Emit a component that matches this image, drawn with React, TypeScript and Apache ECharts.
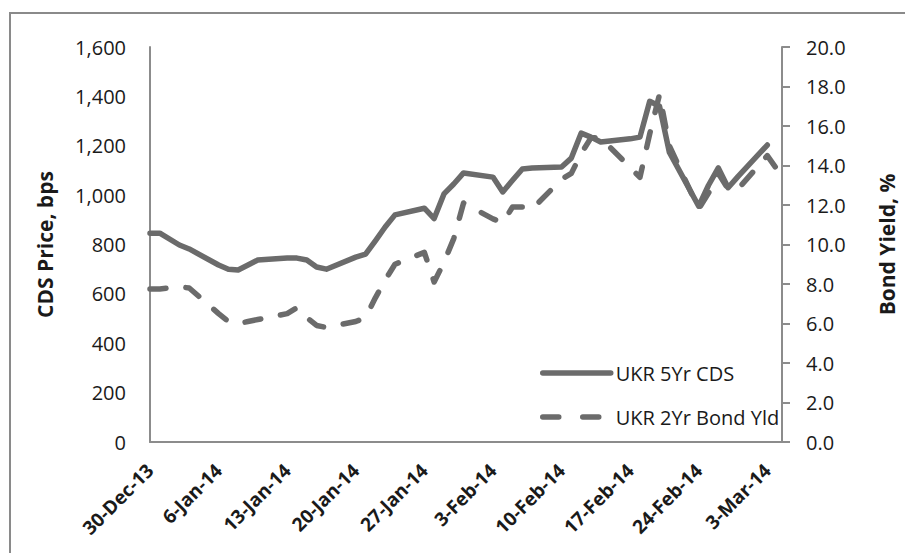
import React, { useEffect, useRef } from "react";
import * as echarts from "echarts";

const dates = [
  "2013-12-30", "2013-12-31", "2014-01-02", "2014-01-03",
  "2014-01-06", "2014-01-07", "2014-01-08", "2014-01-09", "2014-01-10",
  "2014-01-13", "2014-01-14", "2014-01-15", "2014-01-16", "2014-01-17",
  "2014-01-20", "2014-01-21", "2014-01-22", "2014-01-23", "2014-01-24",
  "2014-01-27", "2014-01-28", "2014-01-29", "2014-01-30", "2014-01-31",
  "2014-02-03", "2014-02-04", "2014-02-05", "2014-02-06", "2014-02-07",
  "2014-02-10", "2014-02-11", "2014-02-12", "2014-02-13", "2014-02-14",
  "2014-02-17", "2014-02-18", "2014-02-19", "2014-02-20", "2014-02-21",
  "2014-02-24", "2014-02-25", "2014-02-26", "2014-02-27", "2014-02-28",
  "2014-03-03", "2014-03-04",
];

const cdsValues: (number | null)[] = [
  846, 846, 798, 782,
  717, 700, 697, 717, 737,
  745, 745, 737, 709, 700,
  749, 761, 815, 871, 920,
  947, 905, 1005, 1045, 1090,
  1073, 1013, 1060, 1106, 1110,
  1114, 1150, 1251, 1235, 1215,
  1228, 1235, 1380, 1360, 1174,
  955, 1040, 1110, 1030, 1075,
  1203, null,
];

const bondValues: number[] = [
  7.75, 7.75, 7.85, 7.8,
  6.5, 6.1, 6.0, 6.1, 6.2,
  6.5, 6.8, 6.3, 5.9, 5.8,
  6.1, 6.3, 7.3, 8.2, 9.0,
  9.6, 8.1, 9.1, 10.3, 12.1,
  11.3, 11.1, 11.9, 11.9, 11.8,
  13.3, 13.6, 14.6, 15.4, 15.4,
  13.9, 13.4, 15.6, 17.6, 15.0,
  11.8, 12.6, 13.6, 12.8, 12.8,
  14.5, 13.8,
];

const xTickLabels = [
  "30-Dec-13", "6-Jan-14", "13-Jan-14", "20-Jan-14", "27-Jan-14",
  "3-Feb-14", "10-Feb-14", "17-Feb-14", "24-Feb-14", "3-Mar-14",
];

const seriesNames = ["UKR 5Yr CDS", "UKR 2Yr Bond Yld"];

const BASE = Date.UTC(2013, 11, 30);
const dayIndex = (s: string) => {
  const [y, m, d] = s.split("-").map(Number);
  return Math.round((Date.UTC(y, m - 1, d) - BASE) / 86400000);
};

const FONT = "'Open Sans', 'Noto Sans', sans-serif";
const LINE = "#6b6b6b";
const AXIS = "#8c8c8c";
const TEXT = "#1a1a1a";

export default function App() {
  const ref = useRef<HTMLDivElement>(null);

  useEffect(() => {
    if (!ref.current) return;
    const chart = echarts.init(ref.current, undefined, { renderer: "svg" });

    const cdsData = dates
      .map((d, i) => [dayIndex(d), cdsValues[i]])
      .filter((p) => p[1] !== null);
    const bondData = dates.map((d, i) => [dayIndex(d), bondValues[i]]);

    chart.setOption({
      animation: false,
      backgroundColor: "#ffffff",
      textStyle: { fontFamily: FONT },
      graphic: [
        {
          type: "rect",
          shape: { x: 10, y: 13, width: 905, height: 560 },
          style: { fill: "none", stroke: "#8a8a8a", lineWidth: 2 },
          silent: true,
        },
      ],
      grid: { left: 150, top: 47, width: 640, height: 395, containLabel: false },
      legend: {
        orient: "vertical",
        left: 535,
        top: 358,
        itemWidth: 68,
        itemHeight: 14,
        itemGap: 24,
        data: [
          { name: seriesNames[0] },
          { name: seriesNames[1], lineStyle: { type: [16, 24] } },
        ],
        itemStyle: { opacity: 0 },
        lineStyle: { width: 5.5, cap: "round" },
        textStyle: { fontFamily: FONT, fontSize: 20, color: TEXT },
      },
      xAxis: {
        type: "value",
        min: 0,
        max: 64.5,
        interval: 7,
        axisLine: { show: true, lineStyle: { color: AXIS, width: 2 } },
        axisTick: { show: false },
        splitLine: { show: false },
        axisLabel: {
          rotate: 45,
          margin: 25,
          fontFamily: FONT,
          fontSize: 19,
          fontWeight: "bold",
          color: TEXT,
          showMaxLabel: false,
          formatter: (v: number) => {
            if (v % 7 !== 0) return "";
            return xTickLabels[v / 7] ?? "";
          },
        },
      },
      yAxis: [
        {
          type: "value",
          min: 0,
          max: 1600,
          interval: 200,
          name: "CDS Price, bps",
          nameLocation: "middle",
          nameGap: 95,
          nameTextStyle: { fontFamily: FONT, fontSize: 21, fontWeight: "bold", color: TEXT },
          axisLine: { show: true, lineStyle: { color: AXIS, width: 2 } },
          axisTick: { show: false },
          splitLine: { show: false },
          axisLabel: {
            margin: 24,
            fontFamily: FONT,
            fontSize: 20,
            color: TEXT,
            formatter: (v: number) => v.toLocaleString("en-US"),
          },
        },
        {
          type: "value",
          min: 0,
          max: 20,
          interval: 2,
          position: "right",
          name: "Bond Yield, %",
          nameLocation: "middle",
          nameGap: 94,
          nameTextStyle: { fontFamily: FONT, fontSize: 21, fontWeight: "bold", color: TEXT },
          axisLine: { show: true, lineStyle: { color: AXIS, width: 2 } },
          axisTick: { show: true, inside: false, length: 8, lineStyle: { color: AXIS, width: 2 } },
          splitLine: { show: false },
          axisLabel: {
            margin: 24,
            fontFamily: FONT,
            fontSize: 20,
            color: TEXT,
            formatter: (v: number) => v.toFixed(1),
          },
        },
      ],
      series: [
        {
          name: seriesNames[0],
          type: "line",
          yAxisIndex: 0,
          data: cdsData,
          symbol: "none",
          showSymbol: false,
          lineStyle: { color: LINE, width: 5.5, join: "round", cap: "round" },
          itemStyle: { color: LINE },
        },
        {
          name: seriesNames[1],
          type: "line",
          yAxisIndex: 1,
          data: bondData,
          symbol: "none",
          showSymbol: false,
          lineStyle: { color: LINE, width: 5.5, type: [16, 20], cap: "round", join: "round" },
          itemStyle: { color: LINE },
        },
      ],
    });

    return () => chart.dispose();
  }, []);

  return (
    <div
      ref={ref}
      style={{ position: "fixed", left: 0, top: 0, width: 905, height: 553, background: "#fff" }}
    />
  );
}
